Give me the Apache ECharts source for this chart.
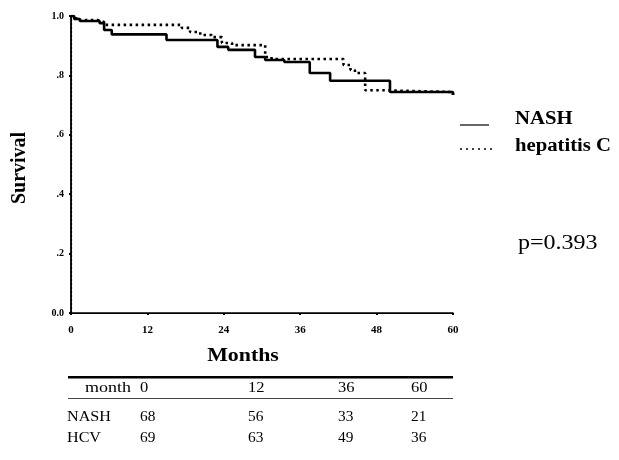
<!DOCTYPE html>
<html>
<head>
<meta charset="utf-8">
<script src="https://cdn.jsdelivr.net/npm/echarts@6/dist/echarts.min.js"></script>
<style>
  html, body { margin: 0; padding: 0; background: #fff; }
  #chart { width: 619px; height: 460px; }
</style>
</head>
<body>
<div id="chart"></div>
<script>
// Kaplan-Meier steps (month, survival after the step)
var nashMonths = [0, 0.5, 1.4, 4.5, 5.2, 6.4, 15, 23, 24.7, 28.9, 30.5, 33.5, 37.5, 40.7, 50.1, 60];
var nashSurv = [1, 0.99, 0.983, 0.976, 0.953, 0.938, 0.919, 0.896, 0.886, 0.862, 0.852, 0.845, 0.808, 0.782, 0.744, 0.734];
var hcvMonths = [0, 0.8, 4.2, 5.2, 17.4, 18.7, 20.3, 22.1, 23.7, 25.3, 30.5, 31.5, 42.8, 43.9, 44.6, 46.2, 49, 60];
var hcvSurv = [1, 0.986, 0.98, 0.97, 0.96, 0.946, 0.936, 0.929, 0.909, 0.902, 0.862, 0.855, 0.835, 0.818, 0.808, 0.75, 0.744, 0.734];

// numbers at risk table
var tableMonths = [0, 12, 36, 60];
var nashAtRisk = [68, 56, 33, 21];
var hcvAtRisk = [69, 63, 49, 36];
var pText = 'p=0.393';

var serif = '"Liberation Serif", "DejaVu Serif", serif';

function pairs (xs, ys) {
  return xs.map(function (x, i) { return [x, ys[i]]; });
}

function txt (x, y, s, size, weight, sx, align) {
  return {
    type: 'text',
    x: x,
    y: y,
    scaleX: sx || 1,
    style: {
      x: 0,
      y: 0,
      text: s,
      fill: '#000',
      font: (weight || 'normal') + ' ' + size + 'px ' + serif,
      textAlign: align || 'left',
      textVerticalAlign: 'middle'
    }
  };
}

var chart = echarts.init(document.getElementById('chart'));

// table under the axis
var colX = [140, 248, 338, 411];
var graphics = [
  { type: 'rect', shape: { x: 68, y: 376, width: 385, height: 2.5 }, style: { fill: '#000' } },
  { type: 'rect', shape: { x: 68, y: 398, width: 385, height: 1 }, style: { fill: '#444' } },
  txt(85, 388, 'month', 15, 'normal', 1.2),
  txt(67, 417, 'NASH', 14, 'normal', 1.15),
  txt(67, 438, 'HCV', 14, 'normal', 1.15)
];
tableMonths.forEach(function (m, i) {
  graphics.push(txt(colX[i], 388, String(m), 15, 'normal', 1.1));
  graphics.push(txt(colX[i], 417, String(nashAtRisk[i]), 14, 'normal', 1.1));
  graphics.push(txt(colX[i], 438, String(hcvAtRisk[i]), 14, 'normal', 1.1));
});

// titles, legend, p value
graphics.push({
  type: 'text',
  x: 20,
  y: 168,
  rotation: Math.PI / 2,
  style: {
    text: 'Survival', fill: '#000', font: 'bold 20px ' + serif,
    textAlign: 'center', textVerticalAlign: 'middle'
  }
});
graphics.push(txt(243, 356, 'Months', 19, 'bold', 1.15, 'center'));
graphics.push({ type: 'line', shape: { x1: 460, y1: 125, x2: 489, y2: 125 }, style: { stroke: '#000', lineWidth: 1.2 } });
graphics.push(txt(515, 119, 'NASH', 18, 'bold', 1.15));
graphics.push({ type: 'line', shape: { x1: 460, y1: 149, x2: 492, y2: 149 }, style: { stroke: '#000', lineWidth: 1.5, lineDash: [2, 4] } });
graphics.push(txt(515, 146, 'hepatitis C', 18, 'bold', 1.15));
graphics.push(txt(518, 244, pText, 20, 'normal', 1.2));

var option = {
  backgroundColor: '#fff',
  animation: false,
  grid: { left: 71, right: 166, top: 16, bottom: 147 },
  xAxis: [
    {
      type: 'value',
      min: 0,
      max: 60,
      interval: 12,
      axisLine: { lineStyle: { color: '#000', width: 1.5 } },
      axisTick: { length: 2, lineStyle: { color: '#000', width: 2 } },
      axisLabel: { color: '#000', fontSize: 11, fontWeight: 'bold', fontFamily: serif, margin: 12 },
      splitLine: { show: false }
    },
    {
      // top border
      type: 'value',
      position: 'top',
      min: 0,
      max: 60,
      axisLine: { lineStyle: { color: '#000', width: 1 } },
      axisTick: { show: false },
      axisLabel: { show: false },
      splitLine: { show: false }
    }
  ],
  yAxis: [
    {
      type: 'value',
      min: 0,
      max: 1,
      interval: 0.2,
      axisLine: { show: true, lineStyle: { color: '#000', width: 1.2, type: [2, 2] } },
      axisTick: { show: true, length: 2, lineStyle: { color: '#000', width: 2 } },
      axisLabel: {
        color: '#000',
        fontSize: 10,
        fontWeight: 'bold',
        fontFamily: serif,
        margin: 7,
        formatter: function (v) {
          if (v === 0) return '0.0';
          if (v === 1) return '1.0';
          return v.toFixed(1).replace('0.', '.');
        }
      },
      splitLine: { show: false }
    },
    {
      // right border
      type: 'value',
      position: 'right',
      min: 0,
      max: 1,
      axisLine: { show: true, lineStyle: { color: '#000', width: 1.8 } },
      axisTick: { show: false },
      axisLabel: { show: false },
      splitLine: { show: false }
    }
  ],
  series: [
    {
      name: 'NASH',
      type: 'line',
      step: 'end',
      showSymbol: false,
      lineStyle: { color: '#000', width: 2.6 },
      data: pairs(nashMonths, nashSurv)
    },
    {
      name: 'hepatitis C',
      type: 'line',
      step: 'end',
      showSymbol: false,
      lineStyle: { color: '#000', width: 2.6, type: [2.5, 3.5] },
      data: pairs(hcvMonths, hcvSurv)
    }
  ],
  graphic: graphics
};

chart.setOption(option);
</script>
</body>
</html>
